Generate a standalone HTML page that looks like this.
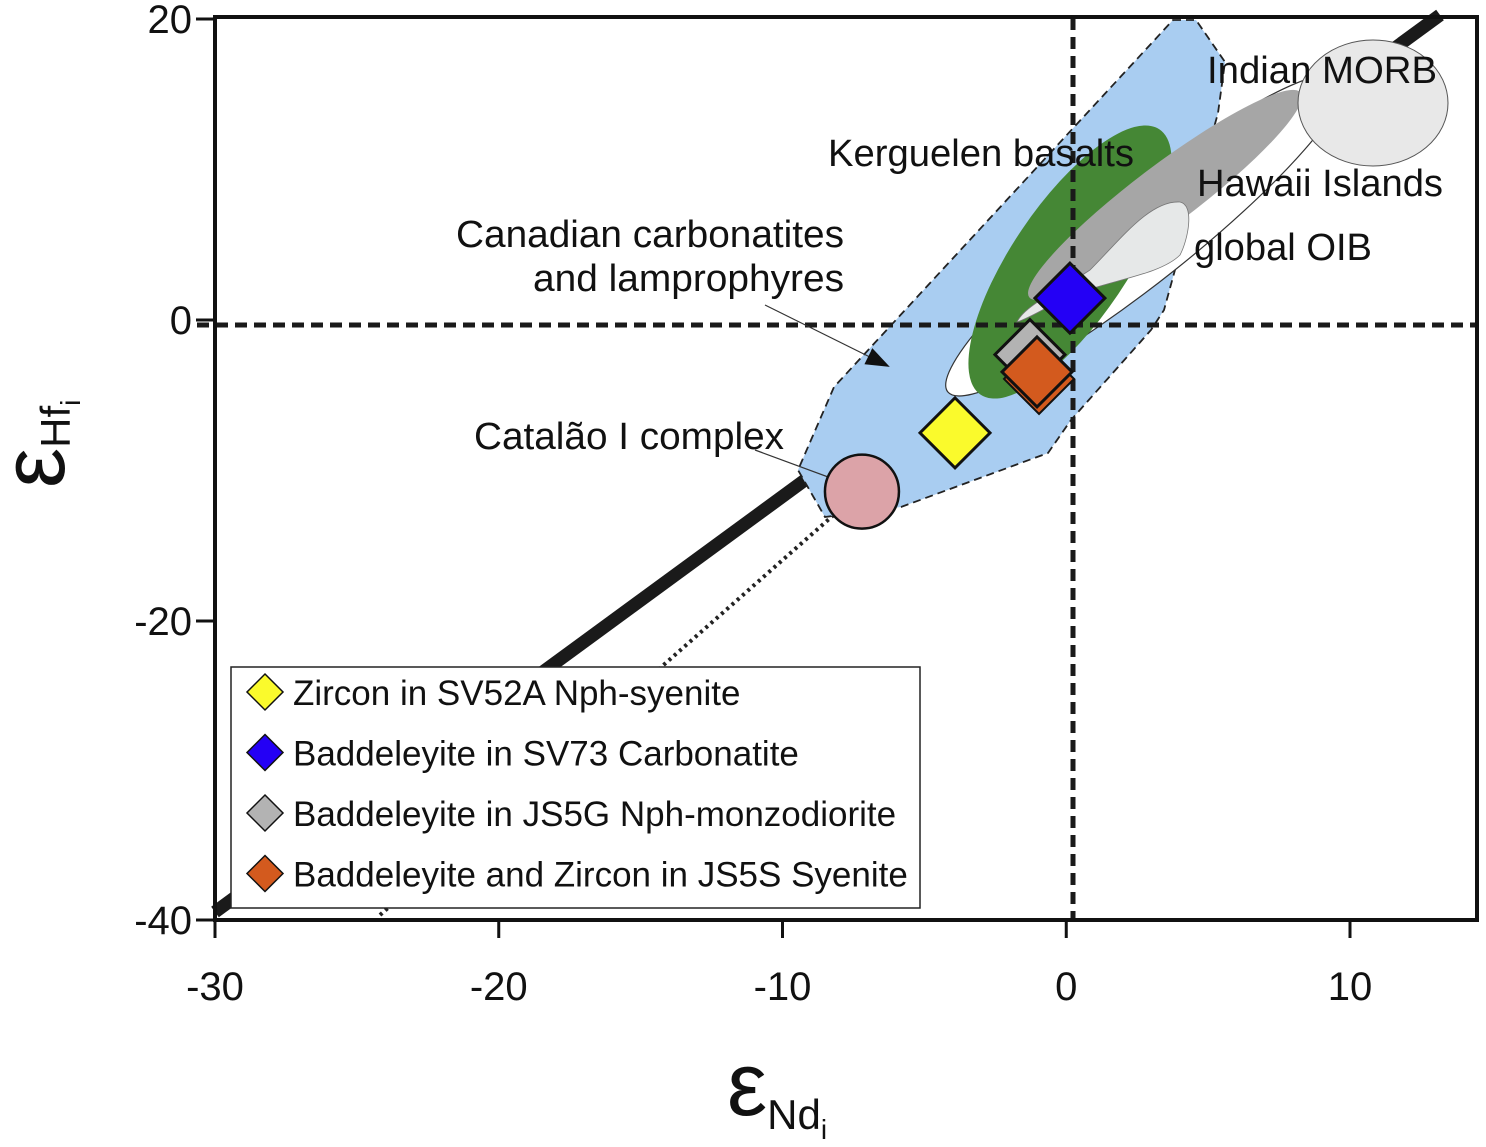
<!DOCTYPE html>
<html><head><meta charset="utf-8"><style>
body{margin:0;background:#fff;}
svg{display:block;font-family:"Liberation Sans",sans-serif;}
</style></head><body>
<svg id="chart" width="1486" height="1147" viewBox="0 0 1486 1147" xmlns="http://www.w3.org/2000/svg">
<defs><marker id="ah" markerWidth="24" markerHeight="18" refX="22" refY="9" orient="auto" markerUnits="userSpaceOnUse"><path d="M0,0 L24,9 L0,18 z" fill="#111"/></marker></defs>
<rect width="1486" height="1147" fill="#fff"/>
<g id="regions">
<line x1="215" y1="912" x2="1440" y2="15" stroke="#1a1a1a" stroke-width="13"/>
<line x1="380" y1="915" x2="845" y2="505" stroke="#222" stroke-width="4" stroke-dasharray="3,4"/>
<path d="M1173,20 L1196,20 L1225,62 L1218,113 L1164,310 L1151,330 L1071,420 L1048,453 L901,507 L825,517 L798,470 L834,387 Z" fill="#a9cdf1" stroke="#222" stroke-width="1.8" stroke-dasharray="8,5"/>
<ellipse cx="1145" cy="235" rx="252" ry="46" transform="rotate(-38.5 1145 235)" fill="#fff" stroke="#333" stroke-width="1.2"/>
<ellipse cx="1070" cy="262" rx="160" ry="58" transform="rotate(-56 1070 262)" fill="#458735"/>
<ellipse cx="1165" cy="195" rx="170" ry="30" transform="rotate(-37 1165 195)" fill="#a6a6a6"/>
<path d="M1017,322 C1025,305 1060,290 1090,270 C1120,240 1150,200 1180,202 C1195,205 1188,240 1180,255 C1160,275 1110,280 1070,296 C1050,305 1030,318 1017,322 Z" fill="#e6e8e8" stroke="#777" stroke-width="0.8"/>
<ellipse cx="1373" cy="103" rx="75" ry="63" fill="#e8e8e8" stroke="#555" stroke-width="1"/>
</g>
<g stroke="#1a1a1a" stroke-width="5" stroke-dasharray="12,7">
<line x1="1073" y1="18" x2="1073" y2="920"/>
<line x1="197" y1="325" x2="1477" y2="325"/>
</g>
<g fill="#111" font-size="38">
<text x="1207" y="83" textLength="230" lengthAdjust="spacingAndGlyphs">Indian MORB</text>
<text x="828" y="166" textLength="306" lengthAdjust="spacingAndGlyphs">Kerguelen basalts</text>
<text x="1197" y="196" textLength="246" lengthAdjust="spacingAndGlyphs">Hawaii Islands</text>
<text x="1194" y="260" textLength="178" lengthAdjust="spacingAndGlyphs">global OIB</text>
<text x="456" y="247" textLength="388" lengthAdjust="spacingAndGlyphs">Canadian carbonatites</text>
<text x="533" y="291" textLength="311" lengthAdjust="spacingAndGlyphs">and lamprophyres</text>
<text x="474" y="449" textLength="310" lengthAdjust="spacingAndGlyphs">Catalão I complex</text>
<line x1="765" y1="305" x2="888" y2="366" stroke="#333" stroke-width="1.2" marker-end="url(#ah)"/>
<line x1="755" y1="450" x2="858" y2="488" stroke="#333" stroke-width="1.2" marker-end="url(#ah)"/>
</g>
<g id="points"></g>
<g fill="none" stroke="#111" stroke-width="4">
<rect x="215" y="17" width="1262" height="903"/>
</g>
<g id="axes" font-size="40" fill="#111"></g>
<text x="64" y="488" font-size="90" transform="rotate(-90 64 488)" fill="#111">ε<tspan font-size="42" dy="6">Hf</tspan><tspan font-size="28" dy="10">i</tspan></text>
<text x="727" y="1115" font-size="90" fill="#111">ε<tspan font-size="42" dy="14">Nd</tspan><tspan font-size="28" dy="10">i</tspan></text>
<g>
<rect x="231" y="667" width="689" height="241" fill="#fff" stroke="#222" stroke-width="1.5"/>
<g id="legend-items" font-size="35" fill="#111"></g>
</g>
</svg>
<script>
const ns="http://www.w3.org/2000/svg";
const pointNames=["Zircon in SV52A Nph-syenite","Baddeleyite in SV73 Carbonatite","Baddeleyite in JS5G Nph-monzodiorite","Baddeleyite and Zircon in JS5S Syenite"];
const pointColors=["#fafa2c","#2400f5","#b3b3b3","#d35a1e"];
const pointEnd=[-3.92,0.13,-1.28,-1.03];
const pointEhf=[-7.5,1.45,-2.3,-3.45];
const catalaoEnd=[-7.2];
const catalaoEhf=[-11.4];
const xTicks=[-30,-20,-10,0,10];
const yTicks=[20,0,-20,-40];
function sx(v){return 215+(v+30)*28.375;}
function sy(v){return 320-v*15.05;}
function el(t,a){const e=document.createElementNS(ns,t);for(const k in a)e.setAttribute(k,a[k]);return e;}
function diamond(cx,cy,h){return `M${cx},${cy-h} L${cx+h},${cy} L${cx},${cy+h} L${cx-h},${cy} Z`;}
const pts=document.getElementById('points');
catalaoEnd.forEach((v,i)=>{
 const c=el('ellipse',{cx:sx(v),cy:sy(catalaoEhf[i]),rx:37,ry:37,fill:'#dca3a8',stroke:'#111','stroke-width':2.5});
 
 
 pts.appendChild(c);
});
pointEnd.forEach((v,i)=>{
 const x=sx(v),y=sy(pointEhf[i]);
 if(i===3){const s=el('path',{d:diamond(x+2,y+7,35),fill:'#d35a1e',stroke:'#111','stroke-width':2});pts.appendChild(s);}
 const p=el('path',{d:diamond(x,y,35),fill:pointColors[i],stroke:'#111','stroke-width':3});
 
 
 pts.appendChild(p);
});
const ax=document.getElementById('axes');
xTicks.forEach(v=>{
 ax.appendChild(el('line',{x1:sx(v),y1:920,x2:sx(v),y2:938,stroke:'#111','stroke-width':3}));
 const t=el('text',{x:sx(v),y:1000,'text-anchor':'middle'});t.textContent=v;
 
 
 ax.appendChild(t);
});
yTicks.forEach(v=>{
 const y=Math.min(920,Math.max(17,sy(v)));
 ax.appendChild(el('line',{x1:196,y1:y,x2:215,y2:y,stroke:'#111','stroke-width':3}));
 const t=el('text',{x:192,y:y+14,'text-anchor':'end'});t.textContent=v;
 
 
 ax.appendChild(t);
});
const lg=document.getElementById('legend-items');
pointNames.forEach((n,i)=>{
 const y=692+i*60.5;
 const d=el('path',{d:diamond(265,y,18),fill:pointColors[i],stroke:'#111','stroke-width':1.5});
 
 
 lg.appendChild(d);
 const t=el('text',{x:293,y:y+13});t.textContent=n;
 
 
 lg.appendChild(t);
});
</script>
</body></html>
